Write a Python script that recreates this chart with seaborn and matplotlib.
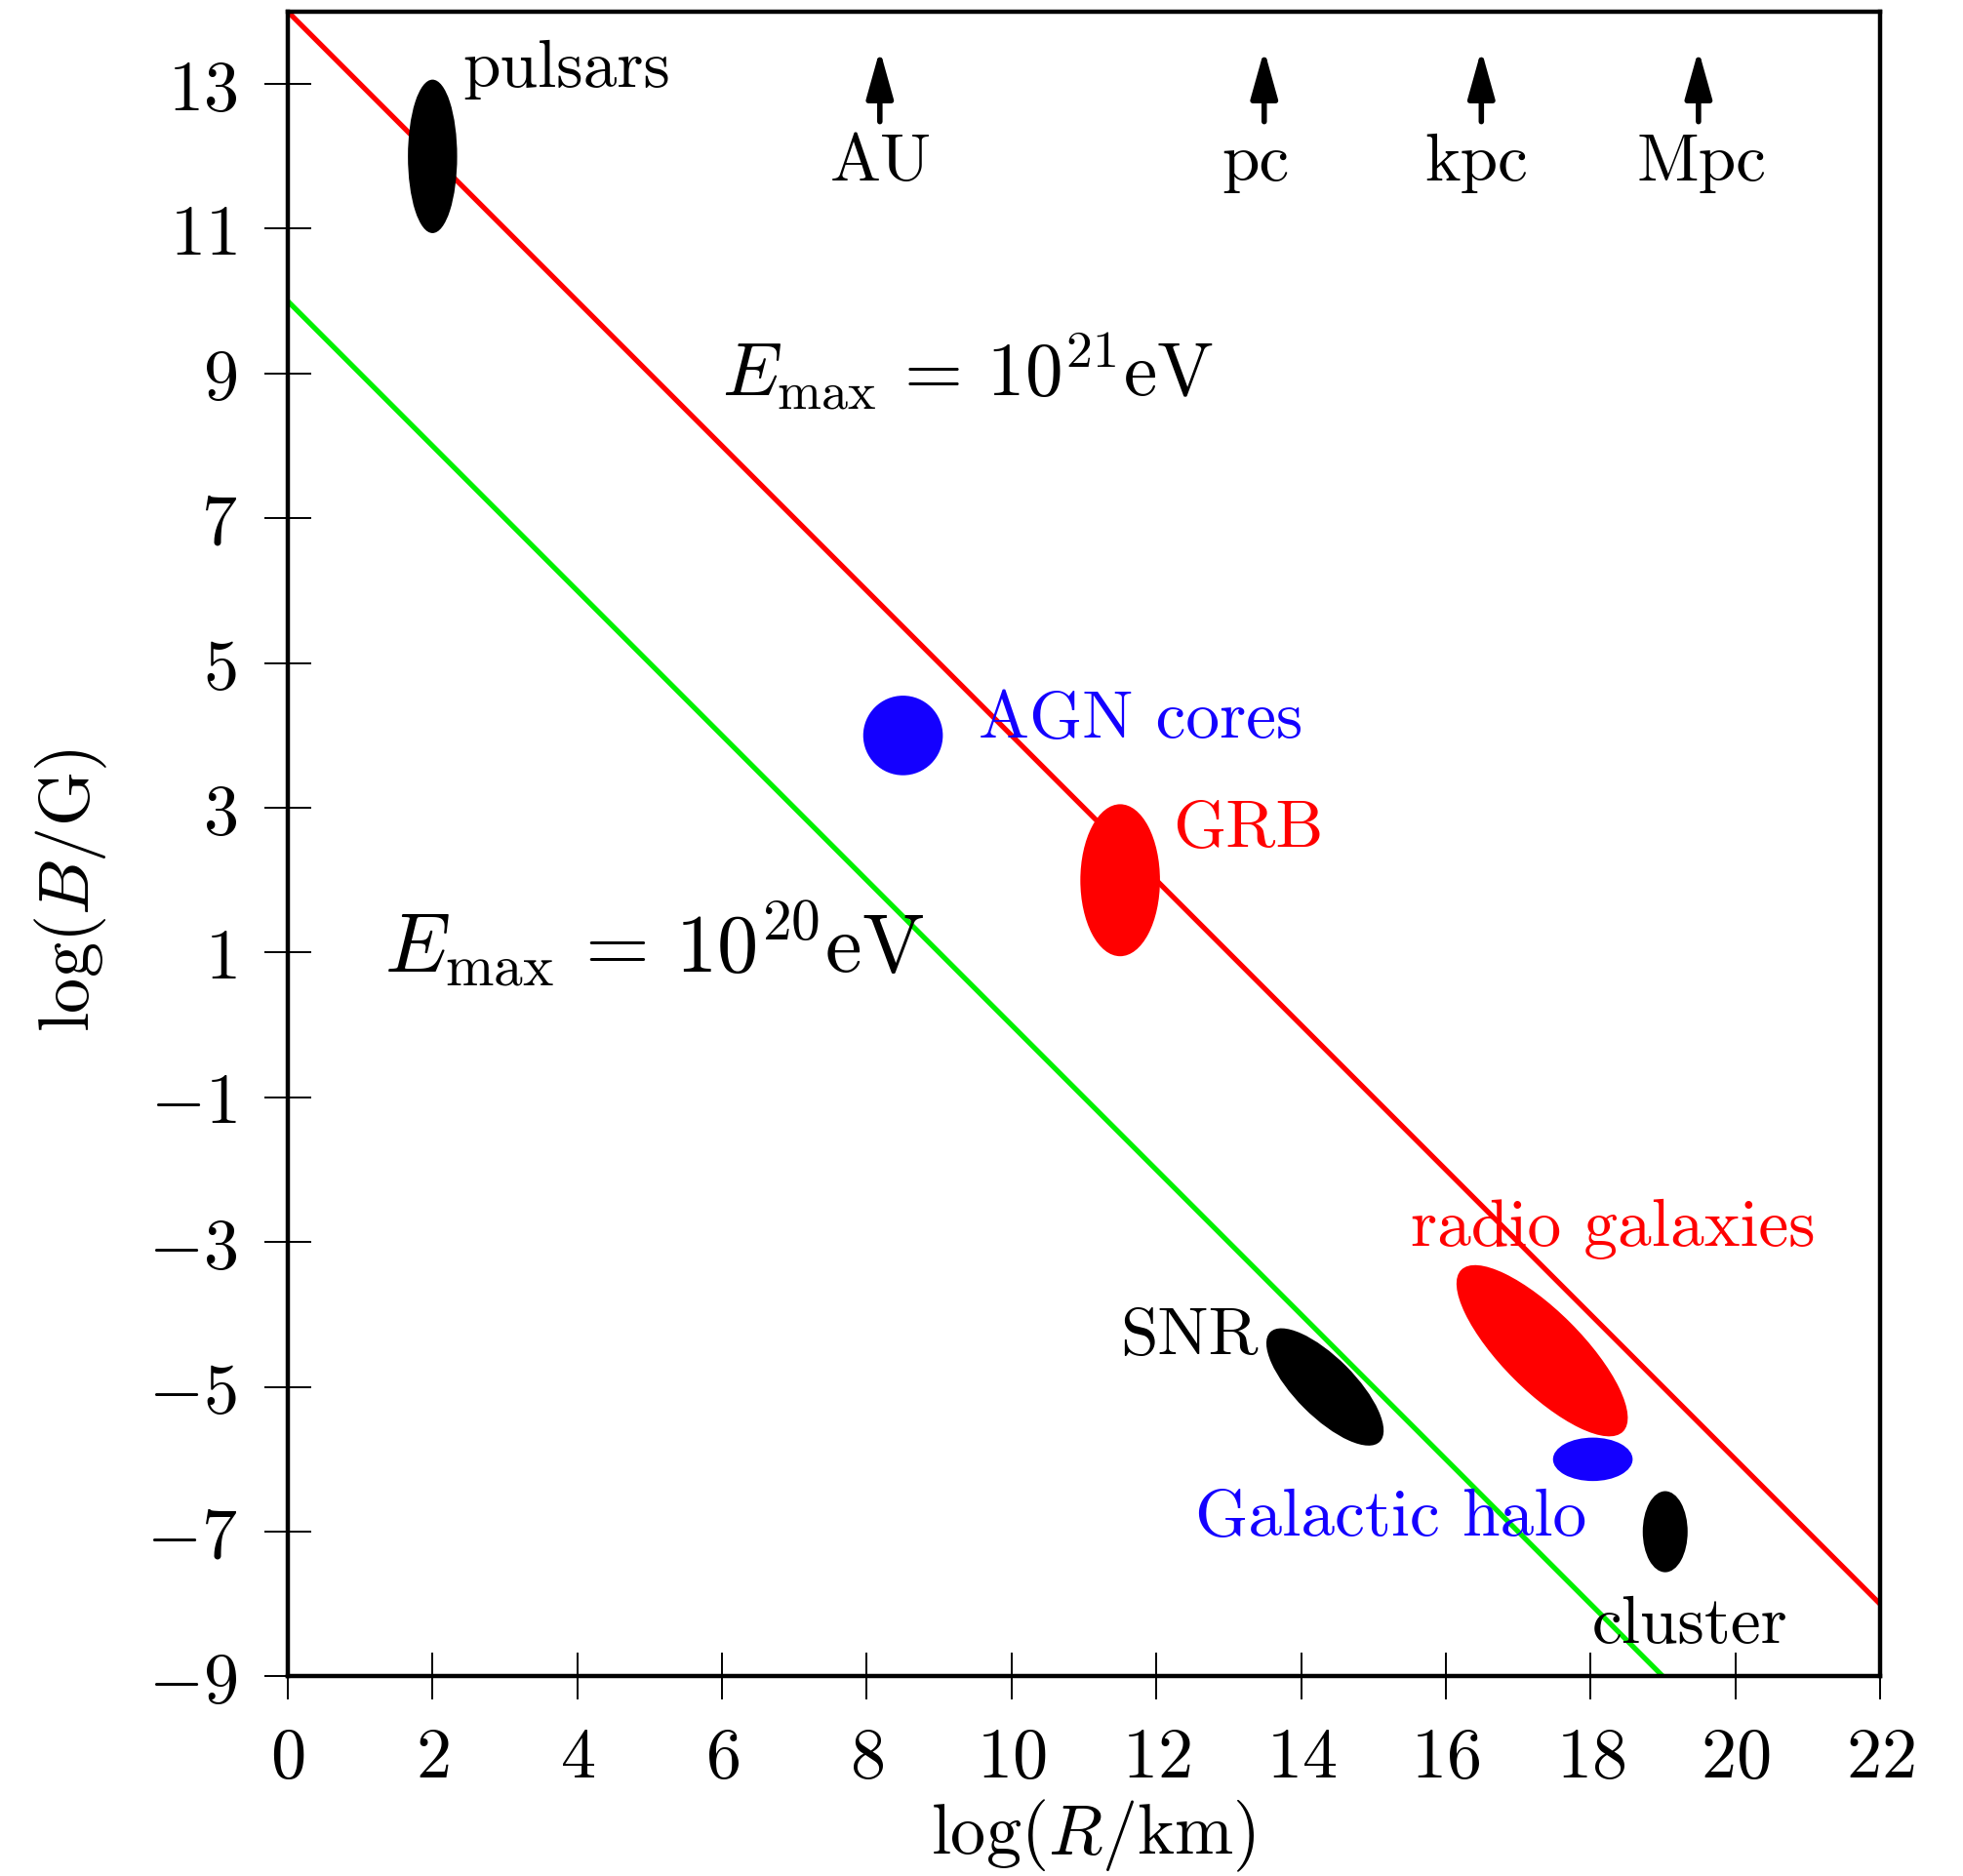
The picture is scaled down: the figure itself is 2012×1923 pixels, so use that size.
import numpy as np
import pandas as pd
import matplotlib
matplotlib.use("Agg")
import matplotlib.pyplot as plt
from matplotlib.patches import Ellipse
import seaborn as sns

# Hillas diagram: log magnetic field vs. log source size
sns.set_theme(style="white")
plt.rcParams["font.family"] = ["cmr10", "DejaVu Serif"]
plt.rcParams["mathtext.fontset"] = "cm"
plt.rcParams["axes.formatter.use_mathtext"] = True
plt.rcParams["text.color"] = "black"
plt.rcParams["axes.labelcolor"] = "black"
plt.rcParams["xtick.color"] = "black"
plt.rcParams["ytick.color"] = "black"

# Maximum-energy lines (endpoints in log R, log B)
line_r = [0, 22]
line_b_21 = [14, -8]
line_b_20 = [10, -12]

# Source classes: centre (log R, log B), full width, full height, angle
sources = ["pulsars", "AGN cores", "GRB", "SNR", "radio galaxies", "Galactic halo", "cluster"]
src_r = [2.0, 8.5, 11.5, 14.33, 17.33, 18.03, 19.03]
src_b = [12.0, 4.0, 2.0, -5.0, -4.5, -6.0, -7.0]
src_w = [0.68, 1.1, 1.1, 2.14, 3.16, 1.1, 0.62]
src_h = [2.12, 1.1, 2.1, 0.82, 1.1, 0.6, 1.12]
src_angle = [0, 0, 0, -45, -45, 0, 0]
src_color = ["black", "#1400ff", "red", "black", "red", "#1400ff", "black"]

# Label anchors (left, baseline)
lab_x = [2.42, 9.55, 12.23, 11.5, 15.51, 12.54, 18.02]
lab_y = [12.98, 3.98, 2.48, -4.53, -3.03, -7.04, -8.52]

# Length-scale markers
scale_names = ["AU", "pc", "kpc", "Mpc"]
scale_r = [8.18, 13.49, 16.49, 19.49]
scale_lab_r = [8.2, 13.37, 16.42, 19.53]

df = pd.DataFrame({"r": line_r + line_r,
                   "b": line_b_21 + line_b_20,
                   "E": ["21"] * 2 + ["20"] * 2})

fig = plt.figure(figsize=(20.12, 19.24), dpi=100)
ax = fig.add_axes([0.1466, 0.1063, 0.8112, 0.8870])

sns.lineplot(data=df, x="r", y="b", hue="E",
             palette={"21": "#ff0000", "20": "#00f000"},
             linewidth=3.8, legend=False, ax=ax, zorder=2)

for r, b, w, h, a, c in zip(src_r, src_b, src_w, src_h, src_angle, src_color):
    ax.add_patch(Ellipse((r, b), w, h, angle=a, facecolor=c, edgecolor="none", zorder=3))

fs = 50
for name, x, y, c in zip(sources, lab_x, lab_y, src_color):
    ax.text(x, y, name, color=c, fontsize=fs, ha="left", va="baseline", zorder=4)

for name, x, lx in zip(scale_names, scale_r, scale_lab_r):
    ax.annotate("", xy=(x, 13.47), xytext=(x, 12.48),
                arrowprops=dict(arrowstyle="-|>,head_length=1.5,head_width=0.42",
                                color="black", lw=4.0, shrinkA=0, shrinkB=0,
                                mutation_scale=20))
    ax.text(lx, 11.68, name, fontsize=fs, ha="center", va="baseline")

ax.text(6.0, 8.69, r"$E_{\max}\,=\,10^{21}\mathrm{eV}$", fontsize=55.5, ha="left", va="baseline")
ax.text(1.33, 0.75, r"$E_{\max}\,=\,10^{20}\mathrm{eV}$", fontsize=61, ha="left", va="baseline", zorder=4)

ax.set_xlim(0, 22)
ax.set_ylim(-9, 14)
ax.set_xticks(np.arange(0, 23, 2))
ax.set_yticks(np.arange(-9, 14, 2))
ax.tick_params(axis="both", which="major", direction="inout", length=35, width=1.4,
               labelsize=52, pad=20, colors="black",
               bottom=True, left=True, top=False, right=False)
for sp in ax.spines.values():
    sp.set_linewidth(3.2)
    sp.set_color("black")
    sp.set_visible(True)

ax.set_xlabel(r"$\log(R/\mathrm{km})$", fontsize=52)
ax.set_ylabel(r"$\log(B/\mathrm{G})$", fontsize=52)
ax.xaxis.set_label_coords(0.5057, -0.072)
ax.yaxis.set_label_coords(-0.1124, 0.473)

fig.savefig("out.png", dpi=100, facecolor="white")
